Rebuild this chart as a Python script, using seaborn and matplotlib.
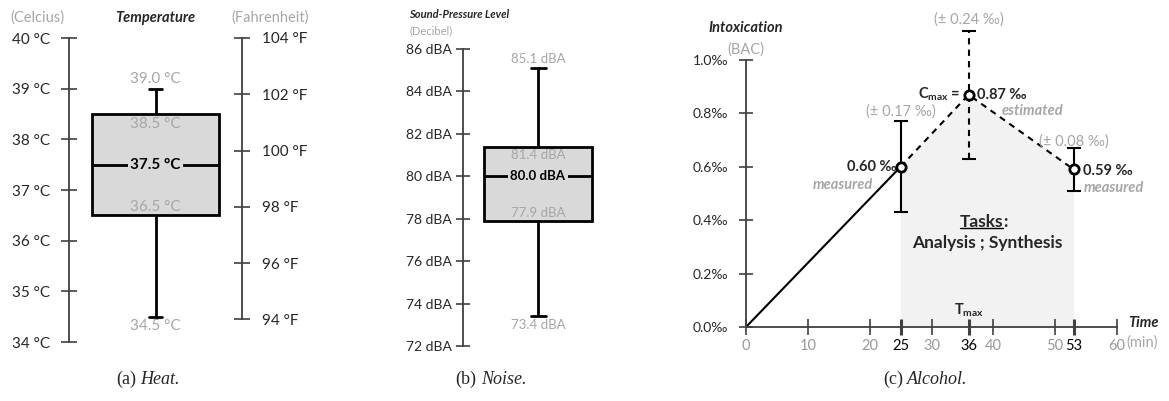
import matplotlib
matplotlib.use('Agg')
import matplotlib.pyplot as plt
import seaborn as sns
from matplotlib.lines import Line2D
from matplotlib.transforms import IdentityTransform

# ---- data ----
# five-number summaries (min, Q1, median, Q3, max)
heat_c = [34.5, 36.5, 37.5, 38.5, 39.0]
celsius_ticks = [34, 35, 36, 37, 38, 39, 40]
fahrenheit_ticks = [94, 96, 98, 100, 102, 104]

noise_dba = [73.4, 77.9, 80.0, 81.4, 85.1]
dba_ticks = [72, 74, 76, 78, 80, 82, 84, 86]

rise_time = [0, 25]
rise_bac = [0.0, 0.60]
bac_time = [25, 36, 53]
bac_vals = [0.60, 0.87, 0.59]
bac_err = [0.17, 0.24, 0.08]
bac_kind = ['measured', 'estimated', 'measured']
time_ticks = [0, 10, 20, 25, 30, 36, 40, 50, 53, 60]
key_times = [25, 36, 53]
bac_ticks = [0.0, 0.2, 0.4, 0.6, 0.8, 1.0]

sns.set_style('white')
plt.rcParams['font.family'] = ['Lato', 'DejaVu Sans']
plt.rcParams['mathtext.fontset'] = 'custom'
plt.rcParams['mathtext.rm'] = 'Lato'
plt.rcParams['mathtext.bf'] = 'Lato:bold'
plt.rcParams['mathtext.it'] = 'Lato:italic'

W, H = 1169, 401
GRAY = '#a6a6a6'
AXC = '#404040'
BOXC = '#d9d9d9'

fig = plt.figure(figsize=(W / 100, H / 100), dpi=100)


def rect(l, t, r, b):
    return [l / W, 1 - b / H, (r - l) / W, (b - t) / H]


def fx(px):
    return px / W


def fy(py):
    return 1 - py / H


def style_axis(ax, side='left'):
    for s in ['top', 'bottom', 'left', 'right']:
        ax.spines[s].set_visible(s == side)
    ax.spines[side].set_color(AXC)
    ax.spines[side].set_linewidth(1.3)
    ax.set_xticks([])
    ax.set_xlabel('')
    ax.set_ylabel('')


def box_labels(ax, vals, unit, fs):
    lo, q1, med, q3, hi = vals
    kw = dict(ha='center', textcoords='offset points', fontsize=fs, color=GRAY)
    ax.annotate(f"{hi:.1f} {unit}", (0, hi), xytext=(0, 2), va='bottom', **kw)
    ax.annotate(f"{q3:.1f} {unit}", (0, q3), xytext=(0, -2), va='top', **kw)
    ax.annotate(f"{q1:.1f} {unit}", (0, q1), xytext=(0, 1), va='bottom', **kw)
    ax.annotate(f"{lo:.1f} {unit}", (0, lo), xytext=(0, -2), va='top', **kw)
    ax.text(0, med, f"{med:.1f} {unit}", ha='center', va='center', fontsize=fs,
            fontweight='bold', color='black', zorder=5,
            bbox=dict(facecolor=BOXC, edgecolor='none', pad=1.5))


# ---------------- (a) Heat ----------------
ax_a = fig.add_axes(rect(69, 38, 242, 342))
sns.boxplot(y=heat_c, ax=ax_a, width=0.73, color=BOXC, saturation=1,
            linecolor='black', linewidth=2, capwidths=0.07)
ax_a.set_xlim(-0.5, 0.5)
ax_a.set_ylim(34, 40)
style_axis(ax_a, 'left')
ax_a.set_yticks(celsius_ticks, [f"{c} °C" for c in celsius_ticks])
ax_a.tick_params(axis='y', left=True, direction='inout', length=11, width=1.2,
                 color=AXC, labelsize=11, pad=8)
box_labels(ax_a, heat_c, '°C', 11)

ax_f = ax_a.twinx()
ax_f.set_ylim(34 * 9 / 5 + 32, 40 * 9 / 5 + 32)
style_axis(ax_f, 'right')
ax_f.spines['right'].set_bounds(min(fahrenheit_ticks), max(fahrenheit_ticks))
ax_f.set_yticks(fahrenheit_ticks, [f"{f} °F" for f in fahrenheit_ticks])
ax_f.tick_params(axis='y', right=True, direction='inout', length=11, width=1.2,
                 color=AXC, labelsize=11, pad=9)

fig.text(fx(10), fy(18), '(Celcius)', color=GRAY, fontsize=10.5, va='center')
fig.text(fx(155), fy(18), 'Temperature', fontsize=10.5, fontweight='bold',
         fontstyle='italic', ha='center', va='center')
fig.text(fx(270), fy(18), '(Fahrenheit)', color=GRAY, fontsize=10.5,
         ha='center', va='center')

# ---------------- (b) Noise ----------------
ax_b = fig.add_axes(rect(463, 49, 613, 346))
sns.boxplot(y=noise_dba, ax=ax_b, width=0.72, color=BOXC, saturation=1,
            linecolor='black', linewidth=2, capwidths=0.1)
ax_b.set_xlim(-0.5, 0.5)
ax_b.set_ylim(72, 86)
style_axis(ax_b, 'left')
ax_b.set_yticks(dba_ticks, [f"{d} dBA" for d in dba_ticks])
ax_b.tick_params(axis='y', left=True, direction='inout', length=10, width=1.2,
                 color=AXC, labelsize=10, pad=3)
box_labels(ax_b, noise_dba, 'dBA', 9.5)

fig.text(fx(409), fy(15), 'Sound-Pressure Level', fontsize=8, fontweight='bold',
         fontstyle='italic', va='center')
fig.text(fx(409), fy(31), '(Decibel)', fontsize=8, color=GRAY, va='center')

# ---------------- (c) Alcohol ----------------
ax_c = fig.add_axes(rect(746, 60, 1117, 327))
ax_c.fill_between(bac_time, bac_vals, color='#f2f2f2', lw=0, zorder=0)
sns.lineplot(x=rise_time, y=rise_bac, color='black', lw=1.5, ax=ax_c)
sns.lineplot(x=bac_time, y=bac_vals, color='black', lw=1.5,
             linestyle=(0, (3, 2.5)), ax=ax_c)
for t, v, e, kind in zip(bac_time, bac_vals, bac_err, bac_kind):
    eb = ax_c.errorbar(t, v, yerr=e, fmt='none', ecolor='black', elinewidth=1.5,
                       capsize=5, capthick=1.5, zorder=3, clip_on=False)
    if kind == 'estimated':
        eb[2][0].set_linestyle((0, (3, 2.5)))
    for c in eb[1]:
        c.set_clip_on(False)
    eb[2][0].set_clip_on(False)
sns.scatterplot(x=bac_time, y=bac_vals, s=45, color='white', edgecolor='black',
                linewidth=2, zorder=6, ax=ax_c, clip_on=False)

ax_c.set_xlim(0, 60)
ax_c.set_ylim(0, 1.0)
for s in ['top', 'right']:
    ax_c.spines[s].set_visible(False)
for s in ['left', 'bottom']:
    ax_c.spines[s].set_color(AXC)
    ax_c.spines[s].set_linewidth(1.3)
ax_c.set_yticks(bac_ticks, [f"{v:.1f}‰" for v in bac_ticks])
ax_c.set_xticks(time_ticks, [str(t) for t in time_ticks])
ax_c.tick_params(axis='y', left=True, direction='inout', length=10, width=1.2,
                 color=AXC, labelsize=10, pad=8)
ax_c.tick_params(axis='x', bottom=True, direction='inout', length=11, width=1.2,
                 color=AXC, labelsize=10.5, pad=3)
for tick, t in zip(ax_c.xaxis.get_major_ticks(), time_ticks):
    if t in key_times:
        tick.label1.set_color('black')
        tick.tick1line.set_markeredgewidth(2.2)
        tick.tick1line.set_color('black')
    else:
        tick.label1.set_color('#999999')

bold = dict(fontweight='bold', fontsize=10.5)
ann = dict(textcoords='offset points', va='center', annotation_clip=False)
ax_c.text(0, 1.12, 'Intoxication', ha='center', va='center', fontsize=10.5,
          fontweight='bold', fontstyle='italic')
ax_c.text(0, 1.04, '(BAC)', ha='center', va='center', fontsize=10.5, color=GRAY)

# value labels around each point
t0, t1, t2 = bac_time
v0, v1, v2 = bac_vals
e0, e1, e2 = bac_err
ax_c.annotate(f"(± {e0:.2f} ‰)", (t0, v0 + e0), xytext=(0, 7), ha='center',
              color=GRAY, fontsize=10.5, **ann)
ax_c.annotate(f"{v0:.2f} ‰", (t0, v0), xytext=(-3, 0), ha='right', **bold, **ann)
ax_c.annotate(bac_kind[0], (t0, v0), xytext=(-20, -13), ha='right', color=GRAY,
              fontstyle='italic', **bold, **ann)

ax_c.annotate(f"(± {e1:.2f} ‰)", (t1, v1 + e1), xytext=(0, 8), ha='center',
              color=GRAY, fontsize=10.5, **ann)
ax_c.annotate(r"$\mathbf{C_{max}}$ =", (t1, v1), xytext=(-6, 0), ha='right',
              **bold, **ann)
ax_c.annotate(f"{v1:.2f} ‰", (t1, v1), xytext=(6, 0), ha='left', **bold, **ann)
ax_c.annotate(bac_kind[1], (t1, v1), xytext=(24, -12), ha='left', color=GRAY,
              fontstyle='italic', **bold, **ann)

ax_c.annotate(f"(± {e2:.2f} ‰)", (t2, v2 + e2), xytext=(0, 5), ha='center',
              color=GRAY, fontsize=10.5, **ann)
ax_c.annotate(f"{v2:.2f} ‰", (t2, v2), xytext=(7, -1), ha='left', **bold, **ann)
ax_c.annotate(bac_kind[2], (t2, v2), xytext=(7, -13), ha='left', color=GRAY,
              fontstyle='italic', **bold, **ann)

tasks = ax_c.text(41.6, 0.393, 'Tasks', ha='right', va='center', fontsize=12.5,
                  fontweight='bold')
ax_c.text(41.6, 0.393, ':', ha='left', va='center', fontsize=12.5, fontweight='bold')
ax_c.text(39.0, 0.315, 'Analysis ; Synthesis', ha='center', va='center',
          fontsize=12.5, fontweight='bold')
ax_c.annotate(r"$\mathbf{T_{max}}$", (t1, 0), xytext=(0, 6), ha='center',
              textcoords='offset points', va='bottom', fontsize=10.5)
ax_c.annotate('Time', (60, 0), xytext=(8, 3), ha='left', fontsize=10.5,
              fontweight='bold', fontstyle='italic', **ann)
ax_c.annotate('(min)', (60, 0), xytext=(7, -6), ha='left', va='top',
              fontsize=10.5, color=GRAY, textcoords='offset points')

# ---------------- captions ----------------
fig.canvas.draw()
rend = fig.canvas.get_renderer()

bb = tasks.get_window_extent(rend)
fig.add_artist(Line2D([bb.x0, bb.x1], [bb.y0 + 2, bb.y0 + 2], color='black',
                      lw=1, transform=IdentityTransform()))

cap_font = dict(fontfamily='Liberation Serif', fontsize=13, va='center')
for cx, tag, word in [(148, '(a)', 'Heat.'), (491, '(b)', 'Noise.'),
                      (925, '(c)', 'Alcohol.')]:
    a = fig.text(0, fy(379), tag, **cap_font)
    b = fig.text(0, fy(379), word, fontstyle='italic', **cap_font)
    w1 = a.get_window_extent(rend).width
    w2 = b.get_window_extent(rend).width
    gap = 4
    start = cx - (w1 + gap + w2) / 2
    a.set_x(fx(start))
    b.set_x(fx(start + w1 + gap))

fig.savefig('out.png', dpi=100)
